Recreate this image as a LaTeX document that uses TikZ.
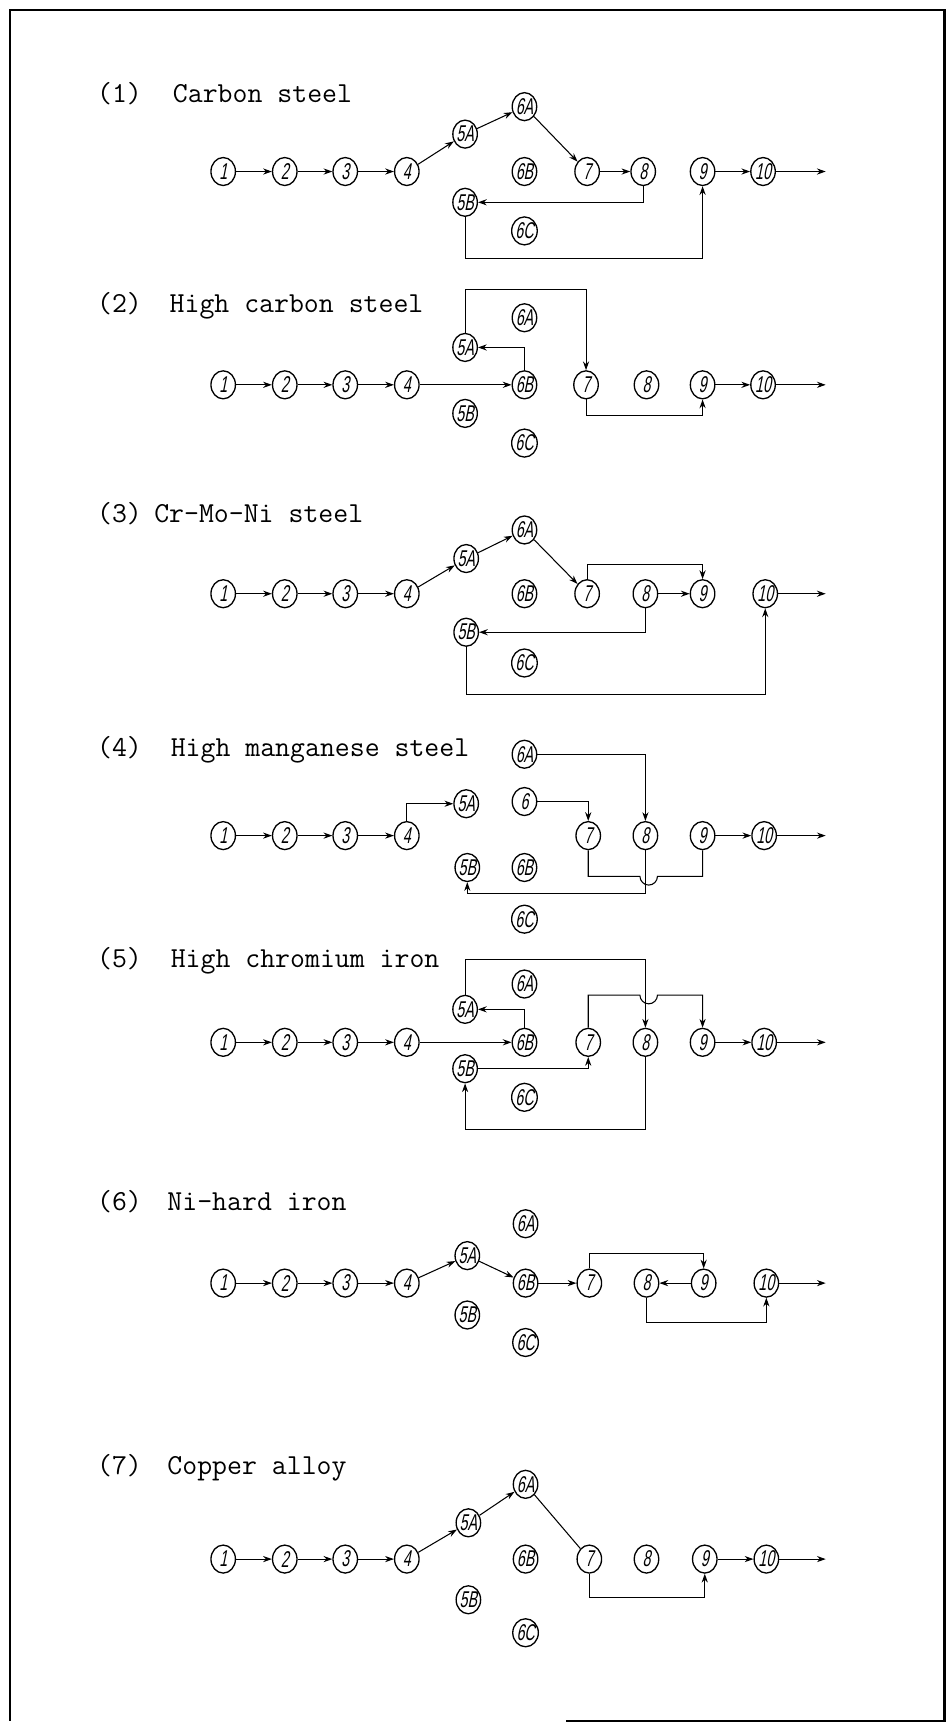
\documentclass[tikz,border=0pt]{standalone}
\usepackage{fontspec}
\usepackage{tikz}
\usetikzlibrary{shapes.geometric, arrows.meta}
\newfontfamily\handfont[FakeSlant=0.2,FakeStretch=0.62]{Liberation Sans}

\begin{document}
\begin{tikzpicture}[
    x=0.022cm, y=-0.022cm,
    stage/.style={
        ellipse, draw=black, line width=0.75pt, inner sep=0pt,
        minimum width=0.49cm, minimum height=0.56cm,
        font=\handfont\fontsize{13}{13}\selectfont
    },
    title/.style={anchor=base west, inner sep=0pt,
        font=\ttfamily\fontsize{16.5}{18}\selectfont\addfontfeatures{FakeBold=0.6}},
    flow/.style={-{Stealth[length=5pt,width=3.5pt]}, line width=0.6pt},
    link/.style={line width=0.6pt}
]
\useasboundingbox (0,0) rectangle (861,1568);

% Frame
\draw[line width=1.2pt] (515,1565) -- (859,1565) -- (859,9) -- (9,9) -- (9,1565);

% Common start of every route
\foreach \r/\y in {a/156,b/350,c/540,d/760,e/948,f/1167,g/1418}{
    \node[stage] (\r1) at (203,\y) {1};
    \node[stage] (\r2) at (259,\y) {2};
    \node[stage] (\r3) at (314,\y) {3};
    \node[stage] (\r4) at (370,\y) {4};
    \draw[flow] (\r1) -- (\r2);
    \draw[flow] (\r2) -- (\r3);
    \draw[flow] (\r3) -- (\r4);
}

% (1) Carbon steel
\node[title] (a-no) at (88,93) {(1)};
\node[title] (a-name) at (157,93) {Carbon steel};
\node[stage] (a5A) at (423,122) {5A};
\node[stage] (a6A) at (477,97) {6A};
\node[stage] (a6B) at (477,156) {6B};
\node[stage] (a7) at (534,156) {7};
\node[stage] (a8) at (585,156) {8};
\node[stage] (a9) at (639,156) {9};
\node[stage] (a10) at (694,156) {10};
\node[stage] (a5B) at (423,184) {5B};
\node[stage] (a6C) at (477,210) {6C};
\coordinate (a-end) at (751,156);
\draw[flow] (a4) -- (a5A);
\draw[flow] (a5A) -- (a6A);
\draw[flow] (a6A) -- (a7);
\draw[flow] (a7) -- (a8);
\draw[flow] (a8.south) |- (a5B.east);
\draw[flow] (a5B.south) |- (a9.south |- 0,235) -- (a9.south);
\draw[flow] (a9) -- (a10);
\draw[flow] (a10) -- (a-end);

% (2) High carbon steel
\node[title] (b-no) at (88,284) {(2)};
\node[title] (b-name) at (154,284) {High carbon steel};
\node[stage] (b5A) at (423,316) {5A};
\node[stage] (b6A) at (477,289) {6A};
\node[stage] (b6B) at (477,350) {6B};
\node[stage] (b7) at (533,350) {7};
\node[stage] (b8) at (588,350) {8};
\node[stage] (b9) at (639,350) {9};
\node[stage] (b10) at (694,350) {10};
\node[stage] (b5B) at (423,376) {5B};
\node[stage] (b6C) at (477,403) {6C};
\coordinate (b-end) at (751,350);
\draw[flow] (b4) -- (b6B);
\draw[flow] (b6B.north) |- (b5A.east);
\draw[flow] (b5A.north) |- (b7.north |- 0,263) -- (b7.north);
\draw[flow] (b7.south) |- (b9.south |- 0,378) -- (b9.south);
\draw[flow] (b9) -- (b10);
\draw[flow] (b10) -- (b-end);

% (3) Cr-Mo-Ni steel
\node[title] (c-no) at (88,475) {(3)};
\node[title] (c-name) at (140,475) {Cr-Mo-Ni steel};
\node[stage] (c5A) at (424,508) {5A};
\node[stage] (c6A) at (477,482) {6A};
\node[stage] (c6B) at (477,540) {6B};
\node[stage] (c7) at (534,540) {7};
\node[stage] (c8) at (587,540) {8};
\node[stage] (c9) at (639,540) {9};
\node[stage] (c10) at (696,540) {10};
\node[stage] (c5B) at (424,575) {5B};
\node[stage] (c6C) at (477,603) {6C};
\coordinate (c-end) at (751,540);
\draw[flow] (c4) -- (c5A);
\draw[flow] (c5A) -- (c6A);
\draw[flow] (c6A) -- (c7);
\draw[flow] (c7.north) |- (c9.north |- 0,513) -- (c9.north);
\draw[flow] (c8) -- (c9);
\draw[flow] (c8.south) |- (c5B.east);
\draw[flow] (c5B.south) |- (c10.south |- 0,632) -- (c10.south);
\draw[flow] (c10) -- (c-end);

% (4) High manganese steel
\node[title] (d-no) at (88,688) {(4)};
\node[title] (d-name) at (155,688) {High manganese steel};
\node[stage] (d5A) at (424,731) {5A};
\node[stage] (d6A) at (477,686) {6A};
\node[stage] (d6) at (477,729) {6};
\node[stage] (d7) at (535,760) {7};
\node[stage] (d8) at (587,760) {8};
\node[stage] (d9) at (639,760) {9};
\node[stage] (d10) at (695,760) {10};
\node[stage] (d5B) at (425,789) {5B};
\node[stage] (d6B) at (477,789) {6B};
\node[stage] (d6C) at (477,836) {6C};
\coordinate (d-end) at (751,760);
\draw[flow] (d4.north) |- (d5A.west);
\draw[flow] (d6A.east) -| (d8.north);
\draw[flow] (d6.east) -| (d7.north);
\draw[link] (d7.south) |- (582,797) arc[start angle=180, end angle=360, radius=5pt] -| (d9.south);
\draw[flow] (d8.south) |- (d5B.south |- 0,813) -- (d5B.south);
\draw[flow] (d9) -- (d10);
\draw[flow] (d10) -- (d-end);

% (5) High chromium iron
\node[title] (e-no) at (88,880) {(5)};
\node[title] (e-name) at (155,880) {High chromium iron};
\node[stage] (e5A) at (423,918) {5A};
\node[stage] (e6A) at (477,895) {6A};
\node[stage] (e6B) at (477,948) {6B};
\node[stage] (e7) at (535,948) {7};
\node[stage] (e8) at (587,948) {8};
\node[stage] (e9) at (639,948) {9};
\node[stage] (e10) at (695,948) {10};
\node[stage] (e5B) at (423,972) {5B};
\node[stage] (e6C) at (477,998) {6C};
\coordinate (e-end) at (751,948);
\draw[flow] (e4) -- (e6B);
\draw[flow] (e6B.north) |- (e5A.east);
\draw[flow] (e5A.north) |- (e8.north |- 0,873) -- (e8.north);
\draw[flow] (e7.north) |- (582,905) arc[start angle=180, end angle=360, radius=5pt] -| (e9.north);
\draw[flow] (e5B.east) -| (e7.south);
\draw[flow] (e8.south) |- (e5B.south |- 0,1027) -- (e5B.south);
\draw[flow] (e9) -- (e10);
\draw[flow] (e10) -- (e-end);

% (6) Ni-hard iron
\node[title] (f-no) at (88,1101) {(6)};
\node[title] (f-name) at (152,1101) {Ni-hard iron};
\node[stage] (f5A) at (425,1142) {5A};
\node[stage] (f6A) at (478,1113) {6A};
\node[stage] (f6B) at (478,1167) {6B};
\node[stage] (f7) at (536,1167) {7};
\node[stage] (f8) at (588,1167) {8};
\node[stage] (f9) at (640,1167) {9};
\node[stage] (f10) at (697,1167) {10};
\node[stage] (f5B) at (425,1196) {5B};
\node[stage] (f6C) at (478,1221) {6C};
\coordinate (f-end) at (751,1167);
\draw[flow] (f4) -- (f5A);
\draw[flow] (f5A) -- (f6B);
\draw[flow] (f6B) -- (f7);
\draw[flow] (f7.north) |- (f9.north |- 0,1140) -- (f9.north);
\draw[flow] (f9) -- (f8);
\draw[flow] (f8.south) |- (f10.south |- 0,1203) -- (f10.south);
\draw[flow] (f10) -- (f-end);

% (7) Copper alloy
\node[title] (g-no) at (88,1341) {(7)};
\node[title] (g-name) at (152,1341) {Copper alloy};
\node[stage] (g5A) at (426,1385) {5A};
\node[stage] (g6A) at (478,1350) {6A};
\node[stage] (g6B) at (478,1418) {6B};
\node[stage] (g7) at (536,1418) {7};
\node[stage] (g8) at (588,1418) {8};
\node[stage] (g9) at (641,1418) {9};
\node[stage] (g10) at (697,1418) {10};
\node[stage] (g5B) at (426,1455) {5B};
\node[stage] (g6C) at (478,1485) {6C};
\coordinate (g-end) at (751,1418);
\draw[flow] (g4) -- (g5A);
\draw[flow] (g5A) -- (g6A);
\draw[link] (g6A) -- (g7);
\draw[flow] (g7.south) |- (g9.south |- 0,1453) -- (g9.south);
\draw[flow] (g9) -- (g10);
\draw[flow] (g10) -- (g-end);

\end{tikzpicture}
\end{document}
